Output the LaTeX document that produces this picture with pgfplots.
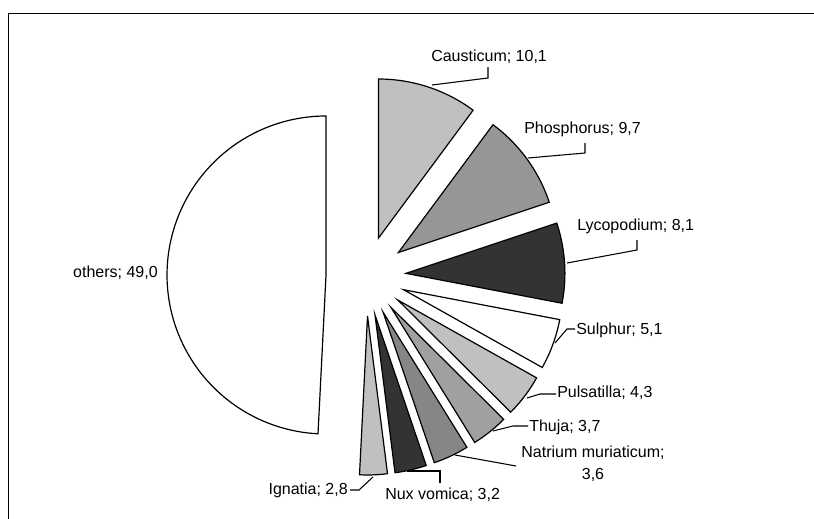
\documentclass[border=0pt]{standalone}
\usepackage{pgfplots}
\pgfplotsset{compat=1.18}
\usepackage{fontspec}
\setmainfont{Liberation Sans}

\definecolor{gLight}{HTML}{C0C0C0}
\definecolor{gMid}{HTML}{969696}
\definecolor{gDark}{HTML}{333333}
\definecolor{gThuja}{HTML}{A0A0A0}
\definecolor{gNat}{HTML}{868686}

\tikzset{lbl/.style={inner sep=0pt, font=\fontsize{12pt}{16.5pt}\selectfont}}

% geometry in pixel units of the reference
\def\cx{366}\def\cy{276}\def\r{159}\def\ex{40}
\def\total{99.6}
\xdef\cum{0}

\newcommand\slice[3]{% value, colour, samples
  \pgfmathsetmacro\aS{\cum/\total*360}%
  \pgfmathsetmacro\cumnew{\cum+#1}%
  \xdef\cum{\cumnew}%
  \pgfmathsetmacro\aE{\cum/\total*360}%
  \pgfmathsetmacro\aM{(\aS+\aE)/2}%
  \pgfmathsetmacro\vx{\cx+\ex*sin(\aM)}%
  \pgfmathsetmacro\vy{\cy-\ex*cos(\aM)}%
  \edef\doslice{\noexpand\addplot[draw=black, fill=#2, line width=0.9pt,
     line join=miter, domain=\aS:\aE, samples=#3]
     ({\vx+\r*sin(x)}, {\vy-\r*cos(x)}) -- (\vx,\vy) -- cycle;}%
  \doslice
}

\begin{document}
\begin{tikzpicture}
\useasboundingbox (0,0) rectangle (610.5pt,388.5pt);
\begin{axis}[
  at={(0,0)}, anchor=south west,
  scale only axis, width=610.5pt, height=388.5pt,
  xmin=0, xmax=814, ymin=0, ymax=518, y dir=reverse,
  hide axis, clip=false,
]
% frame
\draw[black, line width=1.3pt] (axis cs:8.5,540) -- (axis cs:8.5,13.5) -- (axis cs:830,13.5);

% slices: value, colour
\slice{10.1}{gLight}{40}
\slice{9.7}{gMid}{40}
\slice{8.1}{gDark}{40}
\slice{5.1}{white}{30}
\slice{4.3}{gLight}{25}
\slice{3.7}{gThuja}{25}
\slice{3.6}{gNat}{25}
\slice{3.2}{gDark}{20}
\slice{2.8}{gLight}{20}
\slice{49.0}{white}{120}

% leader lines
\draw[black, line width=0.8pt] (axis cs:432,85) -- (axis cs:488,78) -- (axis cs:488,67);
\draw[black, line width=0.8pt] (axis cs:528,158) -- (axis cs:585,153) -- (axis cs:585,143);
\draw[black, line width=0.8pt] (axis cs:567,263) -- (axis cs:637,250) -- (axis cs:637,240);
\draw[black, line width=0.8pt] (axis cs:555,343) -- (axis cs:567,329) -- (axis cs:575,329);
\draw[black, line width=0.8pt] (axis cs:527,398) -- (axis cs:540,394) -- (axis cs:556,394);
\draw[black, line width=0.8pt] (axis cs:493,431) -- (axis cs:513,426) -- (axis cs:528,426);
\draw[black, line width=0.8pt] (axis cs:455,455) -- (axis cs:516,466);
\draw[black, line width=0.8pt] (axis cs:407,471) -- (axis cs:440,471) -- (axis cs:440,483);
\draw[black, line width=0.8pt] (axis cs:373,477) -- (axis cs:359,490) -- (axis cs:350,490);

% labels
\node[lbl, anchor=west] at (axis cs:431,57) {Causticum; 10,1};
\node[lbl, anchor=west] at (axis cs:524,129) {Phosphorus; 9,7};
\node[lbl, anchor=west] at (axis cs:577,226) {Lycopodium; 8,1};
\node[lbl, anchor=west] at (axis cs:576,330) {Sulphur; 5,1};
\node[lbl, anchor=west] at (axis cs:557,393) {Pulsatilla; 4,3};
\node[lbl, anchor=west] at (axis cs:529,427) {Thuja; 3,7};
\node[lbl, align=center] at (axis cs:593,464) {Natrium muriaticum;\\3,6};
\node[lbl, anchor=west] at (axis cs:385,495) {Nux vomica; 3,2};
\node[lbl, anchor=east] at (axis cs:348,490) {Ignatia; 2,8};
\node[lbl, anchor=east] at (axis cs:158,273) {others; 49,0};
\end{axis}
\end{tikzpicture}
\end{document}
